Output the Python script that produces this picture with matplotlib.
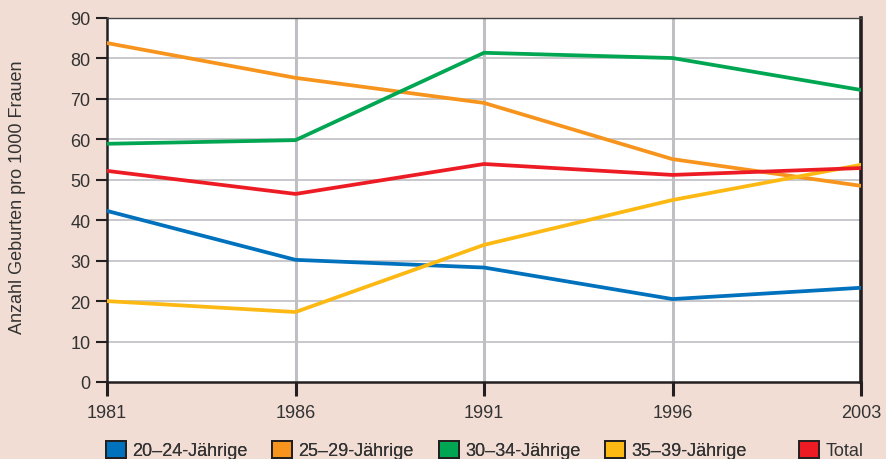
import matplotlib
matplotlib.use('Agg')
import matplotlib.pyplot as plt
from matplotlib.patches import Patch

plt.rcParams['font.family'] = ['Liberation Sans', 'DejaVu Sans']

# data (births per 1000 women)
years = ['1981', '1986', '1991', '1996', '2003']
age_20_24 = [42.3, 30.2, 28.3, 20.5, 23.3]
age_25_29 = [83.8, 75.2, 69.0, 55.1, 48.5]
age_30_34 = [58.9, 59.8, 81.4, 80.1, 72.2]
age_35_39 = [20.0, 17.3, 33.9, 45.0, 53.7]
total = [52.2, 46.5, 53.9, 51.2, 52.9]

series_names = ['20–24-Jährige', '25–29-Jährige', '30–34-Jährige', '35–39-Jährige']
colors = ['#0071bc', '#f7941d', '#00a651', '#fdb913']
total_color = '#ed1c24'

bg = '#f1ddd4'
text_col = '#333333'

fig = plt.figure(figsize=(8.86, 4.6), dpi=100, facecolor=bg)
ax = fig.add_axes([0.1208, 0.1674, 0.8510, 0.7913])
ax.set_facecolor('white')

x = list(range(len(years)))

# grid
for v in range(10, 91, 10):
    ax.axhline(v, color='#c8c8cc', lw=1.4, zorder=1)
for xi in x[1:-1]:
    ax.axvline(xi, color='#bfbfc4', lw=2.2, zorder=1)

ax.plot(x, age_20_24, color=colors[0], lw=2.7, zorder=3)
ax.plot(x, age_25_29, color=colors[1], lw=2.7, zorder=3)
ax.plot(x, age_30_34, color=colors[2], lw=2.7, zorder=3)
ax.plot(x, age_35_39, color=colors[3], lw=2.7, zorder=4)
ax.plot(x, total, color=total_color, lw=2.7, zorder=5)

ax.set_xlim(0, len(years) - 1)
ax.set_ylim(0, 90)
ax.set_yticks(range(0, 91, 10))
ax.set_xticks(x)
ax.set_xticklabels(years)

for s in ['left', 'bottom', 'right']:
    ax.spines[s].set_color('#231f20')
    ax.spines[s].set_linewidth(1.8)
ax.spines['right'].set_linewidth(2.6)
ax.spines['top'].set_color('#444444')
ax.spines['top'].set_linewidth(1.0)

ax.tick_params(axis='y', length=8, width=1.5, color='#231f20', labelsize=13,
               labelcolor=text_col, pad=4)
ax.tick_params(axis='x', length=10, width=2.2, color='#231f20', labelsize=13,
               labelcolor=text_col, pad=6)

fig.text(0.020, 0.572, 'Anzahl Geburten pro 1000 Frauen', rotation=90,
         ha='center', va='center', fontsize=13, color=text_col)

# legend
handles = [Patch(facecolor=c, edgecolor='#231f20', linewidth=1.4) for c in colors]
leg1 = fig.legend(handles, series_names, loc='lower left', bbox_to_anchor=(0.101, -0.036),
                  ncol=4, frameon=False, fontsize=13, handlelength=1.1, handleheight=1.1,
                  handletextpad=0.35, columnspacing=1.38, labelcolor=text_col)
leg2 = fig.legend([Patch(facecolor=total_color, edgecolor='#231f20', linewidth=1.4)], ['Total'],
                  loc='lower left', bbox_to_anchor=(0.884, -0.036), frameon=False, fontsize=13,
                  handlelength=1.1, handleheight=1.1, handletextpad=0.35, labelcolor=text_col)
fig.add_artist(leg1)

fig.savefig('out.png', dpi=100, facecolor=bg)
